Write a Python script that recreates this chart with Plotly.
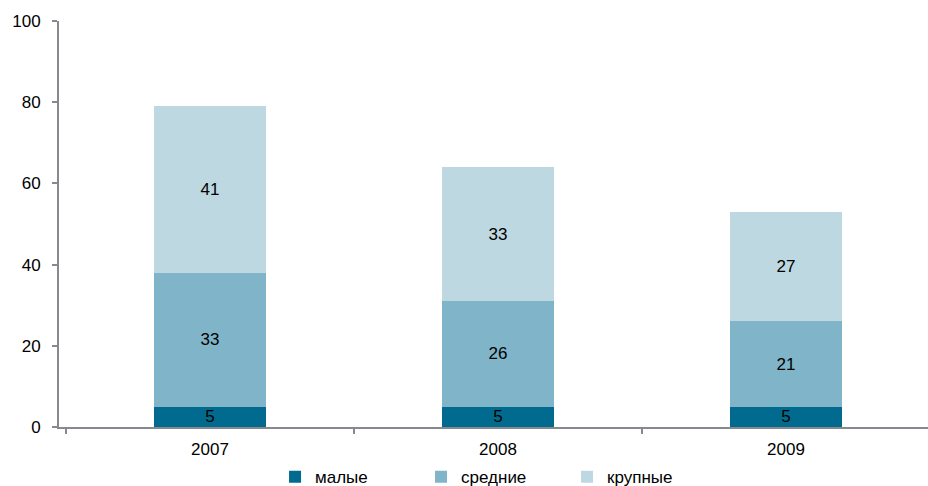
import plotly.graph_objects as go

years = ["2007", "2008", "2009"]
small = [5, 5, 5]
medium = [33, 26, 21]
large = [41, 33, 27]
names = ["малые", "средние", "крупные"]
colors = ["#006A8F", "#80B4C9", "#BED8E1"]

FONT = "Liberation Sans, Arial"

fig = go.Figure()
for vals, name, col in zip([small, medium, large], names, colors):
    fig.add_trace(go.Bar(
        x=years, y=vals, name=name, marker=dict(color=col, line=dict(width=0)),
        text=[str(v) for v in vals], textposition="inside", insidetextanchor="middle",
        textangle=0, constraintext="none",
        textfont=dict(color="black", size=17, family=FONT),
        width=0.389,
    ))

fig.update_layout(
    barmode="stack",
    width=928, height=486,
    margin=dict(l=59, r=0, t=21, b=59, autoexpand=False),
    plot_bgcolor="white", paper_bgcolor="white",
    font=dict(family=FONT, size=17, color="black"),
    showlegend=True,
    legend=dict(orientation="h", x=0.2486, xanchor="left", yref="container",
                y=0.018, yanchor="middle",
                font=dict(size=17), entrywidth=101, itemwidth=30,
                traceorder="normal", tracegroupgap=0),
    uniformtext=dict(mode="show", minsize=8),
)
fig.update_yaxes(range=[0, 100], dtick=20, showgrid=False, zeroline=False,
                 showline=True, linecolor="#868A8E", linewidth=2,
                 ticks="outside", ticklen=5, tickcolor="#868A8E", tickwidth=2,
                 tickfont=dict(size=17), ticklabelstandoff=8)
fig.update_xaxes(range=[-0.524, 2.493], showgrid=False, showline=True,
                 linecolor="#868A8E", linewidth=2,
                 ticks="outside", tickson="boundaries", ticklen=5, tickcolor="#868A8E",
                 tickwidth=2, tickfont=dict(size=17), ticklabelstandoff=6)

fig.write_html("out.html", config={"displayModeBar": False},
               post_script="document.body.style.margin='0';document.body.style.overflow='hidden';")
